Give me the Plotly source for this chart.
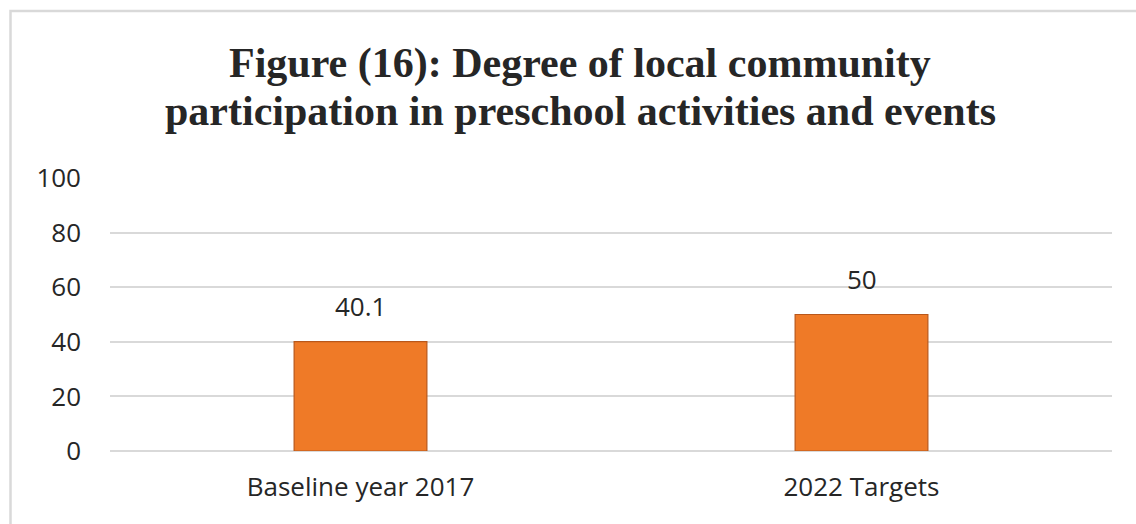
import plotly.graph_objects as go

# Chart data
categories = ["Baseline year 2017", "2022 Targets"]
values = [40.1, 50]
value_labels = ["40.1", "50"]
y_ticks = [0, 20, 40, 60, 80, 100]
title_lines = [
    "Figure (16): Degree of local community",
    "participation in preschool activities and events",
]

W, H = 1136, 524
M_L, M_R, M_T, M_B = 110, 24, 178, 73
plot_w = W - M_L - M_R
plot_h = H - M_T - M_B


def px_to_paper_x(px):
    return (px - M_L) / plot_w


def px_to_paper_y(py):
    return (H - M_B - py) / plot_h


BAR_COLOR = "#EF7A27"
BAR_EDGE = "#B9571A"
GRID = "#D9D9D9"
TEXT = "#262626"
SANS = "Open Sans, Liberation Sans, sans-serif"
SERIF = "Liberation Serif, Times New Roman, serif"

fig = go.Figure()
fig.add_trace(
    go.Bar(
        x=categories,
        y=values,
        width=0.265,
        marker=dict(color=BAR_COLOR, line=dict(color=BAR_EDGE, width=1.2)),
        hoverinfo="skip",
    )
)

# Value labels above each bar
annotations = []
for cat, val, lab in zip(categories, values, value_labels):
    annotations.append(
        dict(
            x=cat, y=val, xref="x", yref="y", text=lab, showarrow=False,
            yanchor="bottom", yshift=16, font=dict(family=SANS, size=26, color=TEXT),
        )
    )

# Two-line chart title
title_centers = [64, 111]
for line, cy in zip(title_lines, title_centers):
    annotations.append(
        dict(
            x=px_to_paper_x(580), y=px_to_paper_y(cy), xref="paper", yref="paper",
            text=f"<b>{line}</b>", showarrow=False, xanchor="center", yanchor="middle",
            font=dict(family=SERIF, size=42, color=TEXT),
        )
    )

# Chart-area border
shapes = [
    dict(
        type="rect", xref="paper", yref="paper",
        x0=px_to_paper_x(10.5), x1=px_to_paper_x(W + 20),
        y0=px_to_paper_y(H + 20), y1=px_to_paper_y(11),
        line=dict(color=GRID, width=2.5), fillcolor="rgba(0,0,0,0)", layer="below",
    )
]

fig.update_layout(
    width=W, height=H,
    margin=dict(l=M_L, r=M_R, t=M_T, b=M_B),
    paper_bgcolor="white", plot_bgcolor="white",
    showlegend=False,
    annotations=annotations,
    shapes=shapes,
    bargap=0.47,
)
fig.update_xaxes(
    showgrid=False, showline=False, zeroline=False, ticks="",
    tickfont=dict(family=SANS, size=26, color=TEXT), ticklabelstandoff=18,
)
fig.update_yaxes(
    range=[0, 100], tickvals=y_ticks, showgrid=True, gridcolor=GRID, gridwidth=1.5,
    zeroline=True, zerolinecolor=GRID, zerolinewidth=1.5, showline=False, ticks="",
    tickfont=dict(family=SANS, size=26, color=TEXT), ticklabelstandoff=28,
)

fig.write_html("out.html", config={"displayModeBar": False})
